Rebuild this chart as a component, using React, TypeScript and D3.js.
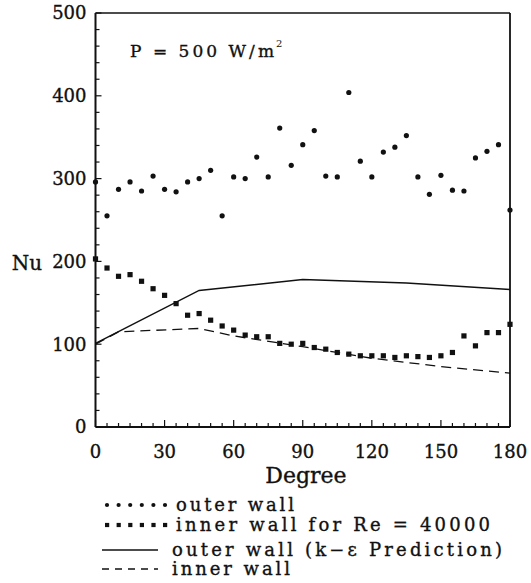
import { useMemo } from 'react';
import * as d3 from 'd3';

// measured angles (deg)
const angles = [0, 5, 10, 15, 20, 25, 30, 35, 40, 45, 50, 55, 60, 65, 70, 75, 80, 85, 90,
  95, 100, 105, 110, 115, 120, 125, 130, 135, 140, 145, 150, 155, 160, 165, 170, 175, 180];

const outerNu = [296, 255, 287, 296, 285, 303, 287, 284, 296, 300, 310, 255, 302, 300, 326, 302, 361, 316, 341,
  358, 303, 302, 404, 321, 302, 332, 338, 352, 302, 281, 304, 286, 285, 325, 333, 341, 262];

const innerNu = [203, 192, 182, 184, 176, 167, 159, 149, 135, 137, 129, 122, 117, 111, 109, 109, 101, 100, 101,
  96, 94, 90, 88, 86, 86, 86, 84, 86, 85, 84, 86, 90, 110, 98, 114, 114, 124];

// k-epsilon prediction
const predOuterDeg = [0, 45, 90, 135, 180];
const predOuterNu = [101, 165, 178, 174, 166];
const predInnerDeg = [0, 10, 45, 60, 90, 120, 150, 180];
const predInnerNu = [100, 115, 119, 110, 97, 83, 73, 65];

const xTickLabels = [0, 30, 60, 90, 120, 150, 180];
const yTickLabels = [0, 100, 200, 300, 400, 500];

const legendLabels = [
  'outer wall',
  'inner wall for Re = 40000',
  'outer wall (k\u2212\u03b5 Prediction)',
  'inner wall',
];

const W = 531;
const H = 583;
const font = '"DejaVu Serif", "Liberation Serif", serif';
const ink = '#111';

const App = () => {
  const x = useMemo(() => d3.scaleLinear().domain([0, 180]).range([95.5, 510]), []);
  const y = useMemo(() => d3.scaleLinear().domain([0, 500]).range([427, 13]), []);

  const lineGen = d3.line<[number, number]>()
    .x(d => x(d[0]))
    .y(d => y(d[1]));

  const outerPath = lineGen(predOuterDeg.map((d, i) => [d, predOuterNu[i]])) || undefined;
  const innerPath = lineGen(predInnerDeg.map((d, i) => [d, predInnerNu[i]])) || undefined;

  const xMinor = d3.range(0, 181, 5);
  const yMinor = d3.range(0, 501, 20);

  const legendY = [505, 525, 550, 569];
  const txt = { fontFamily: font, stroke: ink, strokeWidth: 0.35 };

  return (
    <svg width={W} height={H} style={{ position: 'absolute', left: 0, top: 0, background: '#fff' }}>
      {/* frame */}
      <line x1={x(0)} y1={y(500)} x2={x(180)} y2={y(500)} stroke={ink} strokeWidth={1.5} />
      <line x1={x(180)} y1={y(500)} x2={x(180)} y2={y(0)} stroke={ink} strokeWidth={1.8} />
      <line x1={x(0)} y1={y(0)} x2={x(180)} y2={y(0)} stroke={ink} strokeWidth={1.8} />
      <line x1={x(0)} y1={y(500)} x2={x(0)} y2={y(0)} stroke={ink} strokeWidth={2} />

      {/* x ticks */}
      {xMinor.map(v => (
        <line key={`xt${v}`} x1={x(v)} x2={x(v)} y1={y(0)} y2={y(0) - (v % 30 === 0 ? 7 : 4)}
          stroke={ink} strokeWidth={1.2} />
      ))}
      {xTickLabels.map(v => (
        <text key={`xl${v}`} x={x(v)} y={y(0) + 25} dy="0.35em" textAnchor="middle"
          style={{ ...txt, fontSize: 18 }} fill={ink}>{v}</text>
      ))}

      {/* y ticks */}
      {yMinor.map(v => (
        <line key={`yt${v}`} x1={x(0)} x2={x(0) + (v % 100 === 0 ? 6 : 4)} y1={y(v)} y2={y(v)}
          stroke={ink} strokeWidth={1.2} />
      ))}
      {yTickLabels.map(v => (
        <text key={`yl${v}`} x={x(0) - 9} y={y(v)} dy="0.35em" textAnchor="end"
          style={{ ...txt, fontSize: 18 }} fill={ink}>{v}</text>
      ))}

      {/* axis titles */}
      <text x={27} y={263} dy="0.35em" textAnchor="middle" style={{ ...txt, fontSize: 20 }} fill={ink}>Nu</text>
      <text x={306} y={483} textAnchor="middle" style={{ ...txt, fontSize: 22 }} fill={ink}>Degree</text>

      <text x={130} y={57} style={{ ...txt, fontSize: 17 }} fill={ink} textLength={144} lengthAdjust="spacing">
        P = 500 W/m
      </text>
      <text x={276} y={47} style={{ fontFamily: font, fontSize: 10 }} fill={ink}>2</text>

      {/* prediction curves */}
      <path d={outerPath} fill="none" stroke={ink} strokeWidth={1.5} />
      <path d={innerPath} fill="none" stroke={ink} strokeWidth={1.3} strokeDasharray="10,6" />

      {/* measured points */}
      {angles.map((a, i) => (
        <circle key={`o${a}`} cx={x(a)} cy={y(outerNu[i])} r={2.6} fill={ink} />
      ))}
      {angles.map((a, i) => (
        <rect key={`i${a}`} x={x(a) - 2.6} y={y(innerNu[i]) - 2.6} width={5.2} height={5.2} fill={ink} />
      ))}

      {/* legend */}
      {d3.range(6).map(k => (
        <circle key={`lo${k}`} cx={107 + k * 11.6} cy={legendY[0]} r={2.1} fill={ink} />
      ))}
      {d3.range(6).map(k => (
        <rect key={`li${k}`} x={105 + k * 11.6} y={legendY[1] - 2.1} width={4.2} height={4.2} fill={ink} />
      ))}
      <line x1={102} x2={158} y1={legendY[2]} y2={legendY[2]} stroke={ink} strokeWidth={1.3} />
      <line x1={102} x2={158} y1={legendY[3]} y2={legendY[3]} stroke={ink} strokeWidth={1.3} strokeDasharray="7,6" />
      {legendLabels.map((t, i) => (
        <text key={t} x={i < 2 ? 176 : 172} y={legendY[i]} dy="0.35em"
          style={{ ...txt, fontSize: 18 }} fill={ink}
          textLength={[118, 314, 330, 118][i]} lengthAdjust="spacing">{t}</text>
      ))}
    </svg>
  );
};

export default App;
